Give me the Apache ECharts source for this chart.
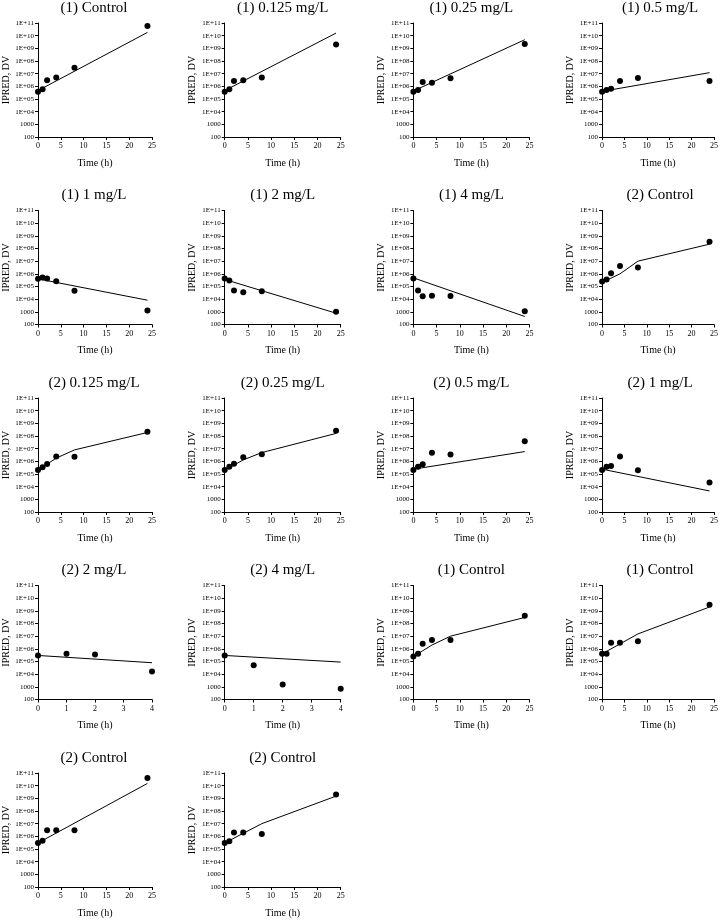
<!DOCTYPE html>
<html>
<head>
<meta charset="utf-8">
<script src="https://cdn.jsdelivr.net/npm/echarts@6/dist/echarts.min.js"></script>
<style>html,body{margin:0;padding:0;background:#fff;}#c{width:721px;height:920px;}</style>
</head>
<body>
<div id="c"></div>
<script>
const titles = ["(1) Control","(1) 0.125 mg/L","(1) 0.25 mg/L","(1) 0.5 mg/L",
  "(1) 1 mg/L","(1) 2 mg/L","(1) 4 mg/L","(2) Control",
  "(2) 0.125 mg/L","(2) 0.25 mg/L","(2) 0.5 mg/L","(2) 1 mg/L",
  "(2) 2 mg/L","(2) 4 mg/L","(1) Control","(1) Control",
  "(2) Control","(2) Control"];
const timesLong = [0,1,2,4,8,24];
const timesShort = [0,1,2,4];
const xMaxLong = 25, xStepLong = 5;
const xMaxShort = 4, xStepShort = 1;
const yMin = 100, yMax = 1e11;

// observed DV per panel
const dv1  = [3.8e5, 6e5, 3e6, 5e6, 2.9e7, 5.8e10];
const dv2  = [3.8e5, 5.8e5, 2.6e6, 3e6, 4.9e6, 2e9];
const dv3  = [3.8e5, 5.1e5, 2.2e6, 1.95e6, 4.3e6, 2.2e9];
const dv4  = [3.8e5, 5.1e5, 6.5e5, 2.6e6, 4.6e6, 2.6e6];
const dv5  = [4.1e5, 5.1e5, 4.3e5, 2.6e5, 4.6e4, 1.3e3];
const dv6  = [4.3e5, 3e5, 4.8e4, 3.5e4, 4.3e4, 1e3];
const dv7  = [4.3e5, 4.8e4, 1.7e4, 1.9e4, 1.8e4, 1.1e3];
const dv8  = [2.5e5, 3.5e5, 1.1e6, 4.1e6, 3.2e6, 3.4e8];
const dv9  = [2.1e5, 3.4e5, 6.3e5, 2.4e6, 2.3e6, 2.2e8];
const dv10 = [2.1e5, 3.7e5, 6.4e5, 2.1e6, 3.6e6, 2.6e8];
const dv11 = [2.1e5, 3.7e5, 6e5, 4.7e6, 3.5e6, 3.8e7];
const dv12 = [2.1e5, 3.7e5, 4.2e5, 2.4e6, 2e5, 2.1e4];
const dv13 = [3e5, 4e5, 3.5e5, 1.6e4];
const dv14 = [3e5, 5e4, 1.5e3, 7e2];
const dv15 = [2.5e5, 4e5, 2.5e6, 5e6, 5e6, 4e8];
const dv16 = [4e5, 4e5, 3e6, 3e6, 4e6, 3e9];
const dv17 = [3e5, 4.5e5, 3e6, 3e6, 3e6, 4e10];
const dv18 = [3e5, 4e5, 2e6, 2e6, 1.5e6, 2e9];

// model prediction (IPRED) per panel: times and values
const ipT1 = [0,24];            const ipV1 = [4.6e5, 1.8e10];
const ipT2 = [0,24];            const ipV2 = [4.6e5, 1.6e10];
const ipT3 = [0,24];            const ipV3 = [4.3e5, 4.8e9];
const ipT4 = [0,24];            const ipV4 = [4e5, 1.2e7];
const ipT5 = [0,24];            const ipV5 = [4e5, 8.3e3];
const ipT6 = [0,24];            const ipV6 = [3.6e5, 7.8e2];
const ipT7 = [0,24];            const ipV7 = [4.8e5, 4.3e2];
const ipT8 = [0,1,2,4,8,24];    const ipV8 = [2.2e5, 3.2e5, 4.6e5, 1e6, 1e7, 2.2e8];
const ipT9 = [0,1,2,4,8,24];    const ipV9 = [2.1e5, 3.5e5, 6e5, 1.8e6, 8e6, 1.9e8];
const ipT10 = [0,1,2,4,8,24];   const ipV10 = [2.1e5, 3.4e5, 5e5, 1.3e6, 4.9e6, 1.6e8];
const ipT11 = [0,24];           const ipV11 = [2.4e5, 5.9e6];
const ipT12 = [0,24];           const ipV12 = [2.4e5, 4.6e3];
const ipT13 = [0,4];            const ipV13 = [3e5, 8e4];
const ipT14 = [0,4];            const ipV14 = [3e5, 9e4];
const ipT15 = [0,2,4,8,24];     const ipV15 = [2.5e5, 7e5, 2e6, 1e7, 3e8];
const ipT16 = [0,8,24];         const ipV16 = [4e5, 1.5e7, 2e9];
const ipT17 = [0,24];           const ipV17 = [3e5, 1.5e10];
const ipT18 = [0,8,24];         const ipV18 = [3e5, 1e7, 1.5e9];

const dvs = [dv1,dv2,dv3,dv4,dv5,dv6,dv7,dv8,dv9,dv10,dv11,dv12,dv13,dv14,dv15,dv16,dv17,dv18];
const ipTs = [ipT1,ipT2,ipT3,ipT4,ipT5,ipT6,ipT7,ipT8,ipT9,ipT10,ipT11,ipT12,ipT13,ipT14,ipT15,ipT16,ipT17,ipT18];
const ipVs = [ipV1,ipV2,ipV3,ipV4,ipV5,ipV6,ipV7,ipV8,ipV9,ipV10,ipV11,ipV12,ipV13,ipV14,ipV15,ipV16,ipV17,ipV18];

const SERIF = '"Liberation Serif","DejaVu Serif",serif';
const plotW = 116, plotH = 114;
const colX = c => 36 + c * 188.7;
const rowY = r => 23 + r * 187.5;

function yFmt(v) {
  const e = Math.round(Math.log10(v));
  if (e >= 4) return '1E+' + (e < 10 ? '0' + e : '' + e);
  return String(Math.round(v));
}

const grids = [], xAxes = [], yAxes = [], series = [], graphics = [];
titles.forEach((t, i) => {
  const r = Math.floor(i / 4), c = i % 4;
  const left = colX(c), top = rowY(r);
  const short = dvs[i].length === timesShort.length;
  const times = short ? timesShort : timesLong;
  grids.push({left: left, top: top, width: plotW, height: plotH, containLabel: false});
  xAxes.push({
    gridIndex: i, type: 'value', min: 0,
    max: short ? xMaxShort : xMaxLong, interval: short ? xStepShort : xStepLong,
    name: 'Time (h)', nameLocation: 'middle', nameGap: 21,
    nameTextStyle: {fontFamily: SERIF, fontSize: 10, color: '#000'},
    axisLine: {show: true, onZero: false, lineStyle: {color: '#000', width: 1}},
    axisTick: {show: true, length: 3, lineStyle: {color: '#000'}},
    axisLabel: {fontFamily: SERIF, fontSize: 8, color: '#000', margin: 5},
    splitLine: {show: false}
  });
  yAxes.push({
    gridIndex: i, type: 'log', logBase: 10, min: yMin, max: yMax, splitNumber: 9,
    name: 'IPRED, DV', nameLocation: 'middle', nameGap: 27, nameRotate: 90,
    nameTextStyle: {fontFamily: SERIF, fontSize: 10, color: '#000'},
    axisLine: {show: true, onZero: false, lineStyle: {color: '#000', width: 1}},
    axisTick: {show: true, length: 3, lineStyle: {color: '#000'}},
    axisLabel: {fontFamily: SERIF, fontSize: 7, color: '#000', margin: 4, formatter: yFmt},
    splitLine: {show: false}
  });
  series.push({
    type: 'line', xAxisIndex: i, yAxisIndex: i, symbol: 'none', silent: true,
    lineStyle: {color: '#000', width: 1}, animation: false,
    data: ipTs[i].map((x, k) => [x, ipVs[i][k]])
  });
  series.push({
    type: 'scatter', xAxisIndex: i, yAxisIndex: i, symbol: 'circle', symbolSize: 6,
    itemStyle: {color: '#000', opacity: 1}, animation: false,
    data: times.map((x, k) => [x, dvs[i][k]])
  });
  graphics.push({
    type: 'text', x: left + plotW / 2, y: top - 15,
    style: {text: t, fontFamily: SERIF, fontSize: 15, fill: '#000', align: 'center', verticalAlign: 'middle'}
  });
});

const chart = echarts.init(document.getElementById('c'), null, {renderer: 'canvas'});
chart.setOption({
  backgroundColor: '#fff',
  animation: false,
  grid: grids, xAxis: xAxes, yAxis: yAxes, series: series, graphic: graphics
});
</script>
</body>
</html>
